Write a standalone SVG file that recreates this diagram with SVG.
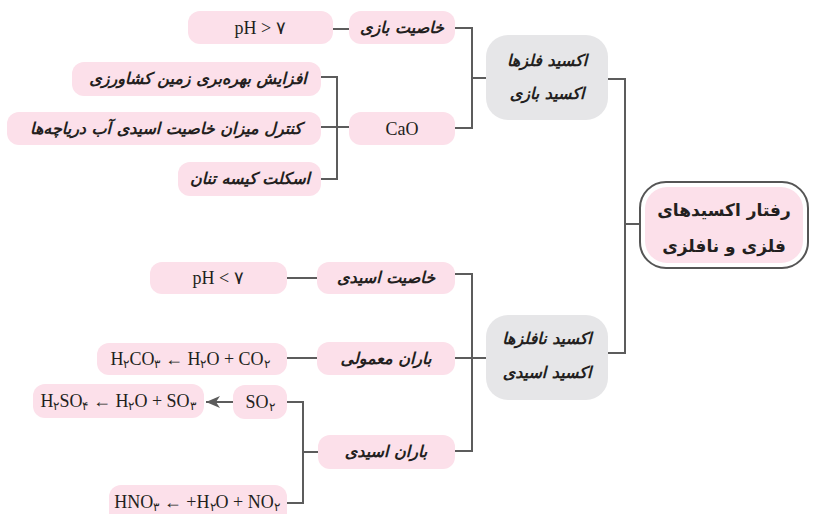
<svg xmlns="http://www.w3.org/2000/svg" width="814" height="514" viewBox="0 0 814 514">
<style>
.bg{fill:#ffffff}
.pk{fill:#fce0ea}
.gr{fill:#e6e6e8}
.ln{fill:none;stroke:#5c5c5c;stroke-width:2}
.fa{font-family:"DejaVu Sans",sans-serif;font-size:16px;font-weight:bold;font-style:italic;fill:#231f20;text-anchor:middle;direction:rtl}
.fg{font-family:"DejaVu Sans",sans-serif;font-size:16px;font-weight:bold;font-style:italic;fill:#231f20;text-anchor:middle;direction:rtl}
.fb{font-family:"DejaVu Sans",sans-serif;font-size:17px;font-weight:bold;fill:#231f20;text-anchor:middle;direction:rtl}
.fm{font-family:"Liberation Serif","DejaVu Serif",serif;font-size:18px;fill:#231f20;text-anchor:middle;direction:ltr}
.sb{font-size:12px}
</style>
<defs>
<marker id="ah" markerUnits="userSpaceOnUse" markerWidth="14" markerHeight="12" refX="14" refY="6" orient="auto">
<path d="M0,0 L14,6 L0,12 L4,6 z" fill="#5c5c5c"/>
</marker>
</defs>
<rect class="bg" x="0" y="0" width="814" height="514"/>
<g id="connectors">
<path class="ln" d="M333,29 H349"/>
<path class="ln" d="M455,28 H472 V128 H455"/>
<path class="ln" d="M472,78 H486"/>
<path class="ln" d="M321,77 H337 V179 H321"/>
<path class="ln" d="M321,127 H349"/>
<path class="ln" d="M608,79 H625 V353 H608"/>
<path class="ln" d="M625,224 H640"/>
<path class="ln" d="M287,278 H317"/>
<path class="ln" d="M455,274 H472 V451 H455"/>
<path class="ln" d="M455,358 H486"/>
<path class="ln" d="M287,358 H317"/>
<path class="ln" d="M287,402 H303 V503 H287"/>
<path class="ln" d="M303,452 H318"/>
<path class="ln" d="M233,402 H206" marker-end="url(#ah)"/>
</g>
<g id="root">
<rect x="640" y="182" width="168" height="86" rx="26" fill="#ffffff" stroke="#555555" stroke-width="2"/>
<rect class="pk" x="645" y="187" width="158" height="76" rx="22"/>
<text class="fb" x="724" y="216">رفتار اکسیدهای</text>
<text class="fb" x="724" y="252">فلزی و نافلزی</text>
</g>
<g id="metal-oxide">
<rect class="gr" x="486" y="35" width="122" height="85" rx="22"/>
<text class="fg" x="547" y="66">اکسید فلزها</text>
<text class="fg" x="547" y="99">اکسید بازی</text>
</g>
<g id="nonmetal-oxide">
<rect class="gr" x="486" y="315" width="122" height="85" rx="22"/>
<text class="fg" x="547" y="344">اکسید نافلزها</text>
<text class="fg" x="547" y="378">اکسید اسیدی</text>
</g>
<g id="basic-property">
<rect class="pk" x="349" y="11" width="106" height="33" rx="12"/>
<text class="fa" x="402" y="33">خاصیت بازی</text>
</g>
<g id="ph-gt">
<rect class="pk" x="188" y="11" width="145" height="33" rx="12"/>
<text class="fm" x="260" y="34">pH &gt; ۷</text>
</g>
<g id="cao">
<rect class="pk" x="349" y="112" width="106" height="33" rx="12"/>
<text class="fm" x="402" y="135">CaO</text>
</g>
<g id="farming">
<rect class="pk" x="72" y="62" width="249" height="34" rx="12"/>
<text class="fa" x="198" y="84">افزایش بهره&#x200C;بری زمین کشاورزی</text>
</g>
<g id="lakes">
<rect class="pk" x="7" y="112" width="314" height="33" rx="12"/>
<text class="fa" x="166" y="134">کنترل میزان خاصیت اسیدی آب دریاچه&#x200C;ها</text>
</g>
<g id="skeleton">
<rect class="pk" x="178" y="162" width="143" height="34" rx="12"/>
<text class="fa" x="250" y="184">اسکلت کیسه تنان</text>
</g>
<g id="acidic-property">
<rect class="pk" x="317" y="262" width="138" height="32" rx="12"/>
<text class="fa" x="386" y="283">خاصیت اسیدی</text>
</g>
<g id="ph-lt">
<rect class="pk" x="150" y="262" width="137" height="32" rx="12"/>
<text class="fm" x="218" y="284">pH &lt; ۷</text>
</g>
<g id="normal-rain">
<rect class="pk" x="317" y="342" width="138" height="33" rx="12"/>
<text class="fa" x="386" y="364">باران معمولی</text>
</g>
<g id="carbonic">
<rect class="pk" x="97" y="343" width="190" height="32" rx="12"/>
<text class="fm" x="190" y="365">H<tspan class="sb" dy="3">۲</tspan><tspan dy="-3">CO</tspan><tspan class="sb" dy="3">۳</tspan><tspan dy="-3"> ← H</tspan><tspan class="sb" dy="3">۲</tspan><tspan dy="-3">O + CO</tspan><tspan class="sb" dy="3">۲</tspan></text>
</g>
<g id="acid-rain">
<rect class="pk" x="318" y="435" width="137" height="34" rx="12"/>
<text class="fa" x="386" y="457">باران اسیدی</text>
</g>
<g id="so2">
<rect class="pk" x="233" y="385" width="54" height="34" rx="12"/>
<text class="fm" x="260" y="408">SO<tspan class="sb" dy="3">۲</tspan></text>
</g>
<g id="sulfuric">
<rect class="pk" x="33" y="384" width="171" height="34" rx="12"/>
<text class="fm" x="118" y="407">H<tspan class="sb" dy="3">۲</tspan><tspan dy="-3">SO</tspan><tspan class="sb" dy="3">۴</tspan><tspan dy="-3"> ← H</tspan><tspan class="sb" dy="3">۲</tspan><tspan dy="-3">O + SO</tspan><tspan class="sb" dy="3">۳</tspan></text>
</g>
<g id="nitric">
<rect class="pk" x="109" y="485" width="178" height="40" rx="12"/>
<text class="fm" x="197" y="508">HNO<tspan class="sb" dy="3">۳</tspan><tspan dy="-3"> ← +H</tspan><tspan class="sb" dy="3">۲</tspan><tspan dy="-3">O + NO</tspan><tspan class="sb" dy="3">۲</tspan></text>
</g>
</svg>
